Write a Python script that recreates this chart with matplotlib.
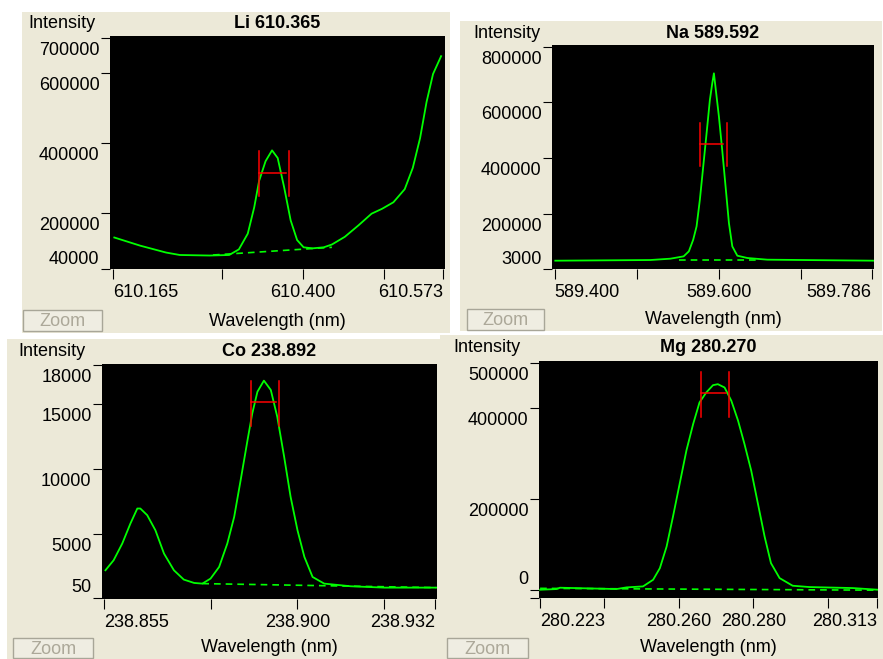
import numpy as np
import matplotlib.pyplot as plt
from matplotlib.patches import Rectangle
from matplotlib.transforms import ScaledTranslation

plt.rcParams['font.family'] = ['Liberation Sans', 'DejaVu Sans']

W, H = 883, 659
BG = '#ece9d8'
GREEN = '#00ff00'
RED = '#ff0000'

# ---- Li 610.365 ----
li_x = [610.167, 610.199, 610.231, 610.248, 610.285, 610.309, 610.321, 610.332, 610.340, 610.346,
        610.354, 610.362, 610.369, 610.377, 610.385, 610.393, 610.401, 610.412, 610.426, 610.436,
        610.452, 610.469, 610.485, 610.498, 610.512, 610.526, 610.536, 610.545, 610.553, 610.561, 610.571]
li_y = [130000, 106700, 87000, 80000, 78500, 80000, 96000, 141000, 216500, 291600,
        348000, 379000, 357000, 273000, 179000, 122600, 102000, 99000, 102000, 110000,
        132000, 165000, 198000, 212000, 230600, 268000, 329000, 414000, 517000, 597000, 648000]
li_base_x = [610.289, 610.436]
li_base_y = [80000, 102000]
li_hline = [610.346, 610.379, 315000]
li_bars = [610.346, 610.383]
li_bar_y = [249000, 376000]
li_xticks = [610.165, 610.3, 610.4, 610.5, 610.573]
li_xlabels = ['610.165', '', '610.400', '', '610.573']
li_yticks = [40000, 200000, 400000, 600000, 700000]
li_ylabels = ['40000', '200000', '400000', '600000', '700000']

# ---- Na 589.592 ----
na_x = [589.4008, 589.5167, 589.541, 589.557, 589.5634, 589.5687, 589.5728, 589.5768, 589.5809, 589.585,
        589.589, 589.5919, 589.5939, 589.5967, 589.600, 589.604, 589.6081, 589.6122, 589.6163, 589.6224,
        589.6346, 589.659, 589.789]
na_y = [32800, 35200, 40000, 48300, 66200, 108000, 155700, 251000, 370400, 490000,
        609000, 668700, 704500, 633000, 549400, 430000, 299000, 167600, 84000, 50700,
        42400, 36400, 32800]
na_base_x = [589.552, 589.645]
na_base_y = [36000, 36000]
na_hline = [589.5768, 589.6053, 451600]
na_bars = [589.5768, 589.6093]
na_bar_y = [374000, 525500]
na_xticks = [589.4, 589.5, 589.6, 589.7, 589.786]
na_xlabels = ['589.400', '', '589.600', '', '589.786']
na_yticks = [3000, 200000, 400000, 600000, 800000]
na_ylabels = ['3000', '200000', '400000', '600000', '800000']

# ---- Co 238.892 ----
co_x = [238.8554, 238.8573, 238.8593, 238.8612, 238.8628, 238.8635, 238.8651, 238.867, 238.869, 238.8713,
        238.8736, 238.876, 238.8779, 238.8798, 238.8818, 238.8837, 238.8853, 238.8868, 238.8884, 238.8895,
        238.8907, 238.8922, 238.8938, 238.8953, 238.8969, 238.8984, 238.900, 238.9016, 238.9035, 238.9062,
        238.9124, 238.9202, 238.9322]
co_y = [2185, 2956, 4242, 5786, 6943, 6943, 6430, 5270, 3470, 2185,
        1465, 1207, 1156, 1540, 2440, 4242, 6300, 9130, 12220, 14270,
        15945, 16800, 16080, 14015, 10930, 7843, 5270, 3213, 1670, 1156,
        950, 847, 847]
co_base_x = [238.8779, 238.9322]
co_base_y = [1156, 847]
co_hline = [238.8891, 238.8950, 15122]
co_bars = [238.8891, 238.8957]
co_bar_y = [13322, 16770]
co_xticks = [238.855, 238.880, 238.900, 238.920, 238.932]
co_xlabels = ['238.855', '', '238.900', '', '238.932']
co_yticks = [50, 5000, 10000, 15000, 18000]
co_ylabels = ['50', '5000', '10000', '15000', '18000']

# ---- Mg 280.270 ----
mg_x = [280.223, 280.2274, 280.2283, 280.2434, 280.2461, 280.2505, 280.2532, 280.255, 280.2568, 280.2585,
        280.2603, 280.2621, 280.2639, 280.2656, 280.2674, 280.2692, 280.2705, 280.2723, 280.2741, 280.2759,
        280.2776, 280.2794, 280.2812, 280.283, 280.2847, 280.287, 280.2905, 280.295, 280.3065, 280.3132]
mg_y = [0, 1460, 4380, 1460, 5100, 7300, 21900, 47450, 94900, 160600,
        233600, 306600, 365000, 412450, 434350, 450400, 452600, 445300, 416100, 372300,
        321200, 262800, 189800, 116800, 58400, 25550, 8760, 5840, 3650, 0]
mg_base_x = [280.223, 280.313]
mg_base_y = [3000, -1000]
mg_hline = [280.2661, 280.2727, 432900]
mg_bars = [280.2661, 280.2736]
mg_bar_y = [381000, 480300]
mg_xticks = [280.223, 280.240, 280.260, 280.280, 280.300, 280.313]
mg_xlabels = ['280.223', '', '280.260', '280.280', '', '280.313']
mg_yticks = [-18250, 0, 200000, 400000, 500000]
mg_ylabels = ['', '0', '200000', '400000', '500000']

fig = plt.figure(figsize=(W / 100, H / 100), dpi=100)
fig.patch.set_facecolor('white')


def fr(x0, y0, x1, y1):
    return [x0 / W, 1 - y1 / H, (x1 - x0) / W, (y1 - y0) / H]


def ftext(x, y, s, **kw):
    fig.text(x / W, 1 - y / H, s, fontsize=13, **kw)


def button(x0, y0, x1, y1):
    fig.add_artist(Rectangle((x0 / W, 1 - y1 / H), (x1 - x0) / W, (y1 - y0) / H,
                             transform=fig.transFigure, facecolor='#efede2',
                             edgecolor='#a8a698', lw=1, zorder=1))
    ftext((x0 + x1) / 2, (y0 + y1) / 2 + 1, 'Zoom', ha='center', va='center',
          color='#aca899', zorder=2)


def panel(pbox, abox, title, x, y, bx, by, hl, bars, bar_y,
          xlim, ylim, xt, xl, yt, yl, int_pos, lab_y):
    fig.add_artist(Rectangle((pbox[0] / W, 1 - pbox[3] / H), (pbox[2] - pbox[0]) / W,
                             (pbox[3] - pbox[1]) / H, transform=fig.transFigure,
                             facecolor=BG, edgecolor='none', zorder=0))
    ax = fig.add_axes(fr(*abox))
    ax.set_facecolor('black')
    for s in ax.spines.values():
        s.set_visible(False)
    ax.plot(x, y, color=GREEN, lw=1.3)
    ax.plot(bx, by, color=GREEN, lw=1.2, dashes=(4, 3))
    ax.plot([hl[0], hl[1]], [hl[2], hl[2]], color=RED, lw=1.1)
    for b in bars:
        ax.plot([b, b], bar_y, color=RED, lw=1.1)
    ax.set_xlim(*xlim)
    ax.set_ylim(*ylim)
    ax.set_xticks(xt)
    ax.set_xticklabels(xl)
    ax.set_yticks(yt)
    ax.set_yticklabels(yl)
    ax.tick_params(axis='x', direction='out', length=7.5, width=0.8, pad=3, labelsize=13)
    ax.tick_params(axis='y', direction='out', length=6.5, width=0.8, pad=1, labelsize=13)
    xls = ax.get_xticklabels()
    xls[0].set_ha('left')
    xls[-1].set_ha('right')
    yls = ax.get_yticklabels()
    low = min(i for i, t in enumerate(yl) if t)
    for i, lab in enumerate(yls):
        dy = 12 / 100 if i == low else -10.5 / 100
        lab.set_transform(lab.get_transform() + ScaledTranslation(0, dy, fig.dpi_scale_trans))
    cx = (abox[0] + abox[2]) / 2
    ftext(int_pos[0], int_pos[1], 'Intensity', ha='left', va='center')
    ftext(cx, int_pos[1], title, ha='center', va='center', fontweight='bold')
    ftext(cx, lab_y, 'Wavelength (nm)', ha='center', va='center')
    return ax


panel((22, 12, 450, 333), (110, 36, 445, 269), 'Li 610.365',
      li_x, li_y, li_base_x, li_base_y, li_hline, li_bars, li_bar_y,
      (610.1617, 610.5758), (40000, 705600), li_xticks, li_xlabels, li_yticks, li_ylabels,
      (28, 23), 321)
panel((460, 21, 882, 331), (552, 45, 874, 269), 'Na 589.592',
      na_x, na_y, na_base_x, na_base_y, na_hline, na_bars, na_bar_y,
      (589.3968, 589.7888), (3000, 806000), na_xticks, na_xlabels, na_yticks, na_ylabels,
      (473, 33), 319)
panel((7, 339, 445, 659), (102, 364, 437, 599), 'Co 238.892',
      co_x, co_y, co_base_x, co_base_y, co_hline, co_bars, co_bar_y,
      (238.8546, 238.9324), (-30, 18080), co_xticks, co_xlabels, co_yticks, co_ylabels,
      (18, 352), 648)
panel((440, 335, 883, 659), (539, 361, 878, 598), 'Mg 280.270',
      mg_x, mg_y, mg_base_x, mg_base_y, mg_hline, mg_bars, mg_bar_y,
      (280.2227, 280.3133), (-18250, 503650), mg_xticks, mg_xlabels, mg_yticks, mg_ylabels,
      (453, 348), 648)

button(23, 310, 102, 331)
button(467, 309, 544, 330)
button(13, 638, 93, 658)
button(447, 638, 528, 658)

fig.savefig('out.png', dpi=100)
